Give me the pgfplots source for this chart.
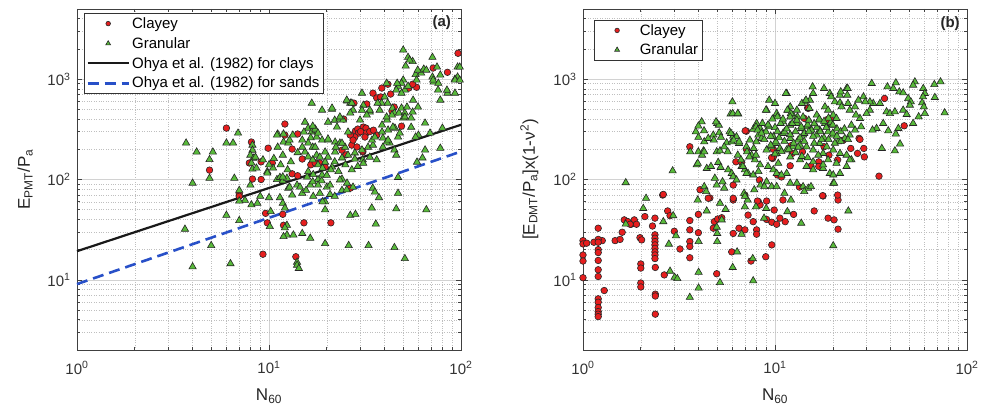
\documentclass[border=0pt]{standalone}
\usepackage{fontspec}
\setmainfont{Liberation Sans}
\usepackage{pgfplots}
\pgfplotsset{compat=1.18}
\definecolor{cred}{RGB}{230,30,30}
\definecolor{cgreen}{RGB}{88,186,58}
\definecolor{cblue}{RGB}{40,80,200}
\pgfplotsset{
 markleg/.style={legend image code/.code={\path[draw=none] (0cm,0cm) (1.45cm,0cm); \draw[mark repeat=2, mark phase=2, ##1, mark size=#1] plot coordinates {(0cm,0cm) (0.725cm,0cm) (1.45cm,0cm)};}},
 lineleg/.style={legend image code/.code={\draw[##1] (0cm,0cm) -- (1.45cm,0cm);}},
}
\begin{document}
\begin{tikzpicture}
\path[use as bounding box] (-77pt,-60pt) rectangle (905pt,350pt);
%================ (a) =================
\begin{axis}[at={(0pt,0pt)}, anchor=south west,
  xmode=log, ymode=log, scale only axis, width=384pt, height=341pt,
  xmin=1, xmax=100, ymin=2, ymax=5000,
  xtick={1,10,100}, xticklabels={10\textsuperscript{0},10\textsuperscript{1},10\textsuperscript{2}},
  ytick={10,100,1000}, yticklabels={10\textsuperscript{1},10\textsuperscript{2},10\textsuperscript{3}},
  minor xtick={2,3,4,5,6,7,8,9,20,30,40,50,60,70,80,90},
  minor ytick={3,4,5,6,7,8,9,20,30,40,50,60,70,80,90,200,300,400,500,600,700,800,900,2000,3000,4000},
  grid=both,
  major grid style={gray!35, line width=0.5pt},
  minor grid style={gray!50, dotted, line width=0.5pt},
  axis line style={black!75, line width=0.7pt},
  tick style={black!75, line width=0.6pt},
  major tick length=5pt, minor tick length=3pt, tick align=inside,
  ticklabel style={font=\fontsize{15}{16}\selectfont, text=black!80},
  xticklabel style={yshift=-8pt}, yticklabel style={xshift=-3pt},
  label style={font=\fontsize{17}{19}\selectfont, text=black!85},
  xlabel={N\textsubscript{60}},
  xlabel style={at={(axis description cs:0.5,-0.135)}, anchor=center},
  clip=false,
  legend cell align=left,
 ylabel={E\textsubscript{PMT}/P\textsubscript{a}},
 ylabel style={at={(axis description cs:-0.135,0.5)}, anchor=center},
 legend style={at={(0.018,0.988)}, anchor=north west, draw=black!80, line width=0.7pt, fill=white,
   font=\fontsize{15}{17}\selectfont, inner sep=2pt, row sep=3.5pt},
]
\addplot[only marks, mark=*, mark size=3.3pt, mark options={fill=cred, draw=black!85, line width=0.6pt}, markleg=2.3pt] coordinates {
(6,325)(4.9,124)(12.1,357)(12.1,277)(14.1,284)(8.1,236)(9.9,205)(13.2,201)(7.9,146)(9.1,150)
(10.4,146)(14.9,160)(16.9,150)(16.5,140)(8.2,101)(13.2,114)(14.1,109)(7,72)(24.5,400)(27.7,577)
(32.3,565)(28.2,305)(29,318)(31,333)(32,325)(29.3,290)(32,290)(28,265)(34.8,725)(36.4,650)
(38.2,665)(43,710)(38.7,815)(41.6,890)(44.9,527)(43.7,480)(53.5,815)(58.7,830)(56,890)(71.6,1290)
(85,1170)(96.5,1810)(49,340)(31.6,265)(36.4,277)(30.8,188)(27,220)(24,196)(26.5,277)(27.4,247)
(28.7,211)(30.8,192)(25.2,176)(18.4,146)(19.6,133)(17.4,146)(7,68)(9.1,100)(9.6,46)(9.8,37)
(9.3,18)(11.8,45)(11.9,35)(15.2,37)(13.8,17)(21,37)(26.5,82)(33.5,300)(35,310)(30,300)
};
\addlegendentry{Clayey}
\addplot[only marks, mark=triangle*, mark size=4.2pt, mark options={fill=cgreen, draw=black!85, line width=0.6pt}, markleg=2.8pt] coordinates {
(3.7,231)(4.2,188)(4.0,92)(5.1,188)(4.9,158)(4.9,103)(6.0,231)(6.5,231)(6.9,290)(6.6,103)(7.5,62)
(3.65,32)(4.0,13.5)(5.0,22)(6.3,14.5)(6.0,44)(7.0,39)(7.0,61)(7.0,78)(8.0,88)(8.2,127)(8.1,56)
(8.7,58)(9.0,68)(10,66)(10.2,48)(10.1,34)(9.8,120)(11,100)(11.4,105)(11.8,97)(12.4,103)(11.4,66)
(11.8,58)(12.1,52)(12.4,35)(12.1,33)(12.4,28)(13.4,28)(11.9,27)(14,15)(14,14)(14.3,13)(14.9,29)
(16.4,26)(12.6,82)(13.2,70)(14,88)(14.9,73)(15.6,78)(16.4,88)(17,68)
(19.6,60)(19.6,50)(19.6,23)(26,22)(26.5,44)(28.2,45)(24,101)(25.5,92)(20.8,71)(22,68)(24,78)(20,84)
(18,100)(18.8,97)(18,88)(19,60)(34.7,82)(35.6,75)(37.4,66)(34.3,52)(36,36)(33,22)(47,105)(47,73)
(46,51)(45,21)(51,16.3)(66,50)
(8.2,220)(8.2,196)(8.0,175)(8.3,163)(8.1,146)(10.6,162)(11.1,284)(11.9,284)(11.9,236)(12.6,231)
(15.4,373)(16,325)(16.7,298)(17.5,310)(16.5,260)(16,231)(17.7,265)(16.9,210)(15.4,188)(14.9,210)
(14.1,185)(16,168)(16.9,157)(17.7,175)(16.7,576)
(50,1950)(53,1650)(56,1500)(51.5,1350)(71,1650)(96,1320)(96,1050)(93,1000)(78,1100)
(71,1050)(72,935)(76,780)(85,725)(93,725)(58,1110)(62,1150)(64,1260)(50,980)(49,910)(51,780)
(53,850)(47,850)(46,780)(49,725)(40,665)(38.6,577)(41.5,577)(44,515)(45,460)(47.5,460)(49,515)
(51,460)(50,410)(55,410)(56,470)(30.5,725)(31,550)(30.5,490)(33.5,470)(36.8,577)(25.5,605)
(26.5,577)(21.3,500)(20.3,373)(22,390)(23.3,400)
(17.4,318)(18,290)(18.9,247)(20.3,247)(22.1,236)(23.4,231)(24.9,210)(22.1,188)(20.3,167)(19.6,149)
(24,164)(25.8,175)(28,184)(30.5,197)(32.8,210)(34.8,220)(34.4,247)(35.6,265)(38.8,297)(39.2,259)
(41.7,311)(45.3,325)(41.2,391)(38.8,349)(43.7,439)
(55,332)(65,365)(80,325)(60,277)(58,265)(63,164)(59,149)(78,205)(45,197)(46,175)(42.5,231)(41,236)(47,265)
(8.5,167)(8.6,130)(9.3,157)(9.8,116)(11,277)(11.1,210)(11.8,175)(12.8,247)(13.3,277)(14.9,247)
(15.2,297)(16.9,340)(17.4,210)(18.4,167)(19.6,188)(20.3,253)(18.9,111)(21.3,133)(22.3,210)(18.9,491)
(21.3,515)(22.6,333)(24.3,391)(25.8,297)(27.4,491)(25.4,618)(27,577)(11.8,106)(12.8,84)(14.5,84)
(15.8,106)(16.9,95)(18.4,73)(20.8,88)(23.4,99)(25.4,79)(27.4,84)(30.8,157)(33.5,167)(36.4,157)
(39.2,210)(41.7,247)(44.2,333)(48,290)(51,420)(52.3,527)(56.3,618)(59.7,527)(71.6,980)(75,1320)
(76.2,910)(78,618)(84.5,777)(93,980)(98.5,1320)(98.5,980)(65,197)(69,290)(59.5,1230)(54,1550)
(66,1230)(58.7,980)(46.5,910)(41,910)(33.5,491)(23.4,420)(26.5,460)(29.8,391)(32.3,439)(37.7,491)(41,420)
(18,140)(19,130)(21,125)(23,120)(20,110)(22,150)(25,140)(27,125)(29,135)(31,145)(16,120)(17,112)
(28,160)(24,230)(10.5,130)(11.5,140)(12.5,125)(13,150)(10,140)
};
\addlegendentry{Granular}
\addplot[black!90, line width=2.2pt, lineleg] coordinates {(1,19.3)(100,351)};
\addlegendentry{Ohya et al. (1982) for clays}
\addplot[cblue, line width=2.6pt, dash pattern=on 11pt off 6pt, lineleg] coordinates {(1,9.08)(100,190)};
\addlegendentry{Ohya et al. (1982) for sands}
\node[font=\bfseries\fontsize{15}{16}\selectfont, text=black!85] at (rel axis cs:0.95,0.959) {(a)};
\end{axis}
%================ (b) =================
\begin{axis}[at={(506pt,0pt)}, anchor=south west,
  xmode=log, ymode=log, scale only axis, width=384pt, height=341pt,
  xmin=1, xmax=100, ymin=2, ymax=5000,
  xtick={1,10,100}, xticklabels={10\textsuperscript{0},10\textsuperscript{1},10\textsuperscript{2}},
  ytick={10,100,1000}, yticklabels={10\textsuperscript{1},10\textsuperscript{2},10\textsuperscript{3}},
  minor xtick={2,3,4,5,6,7,8,9,20,30,40,50,60,70,80,90},
  minor ytick={3,4,5,6,7,8,9,20,30,40,50,60,70,80,90,200,300,400,500,600,700,800,900,2000,3000,4000},
  grid=both,
  major grid style={gray!35, line width=0.5pt},
  minor grid style={gray!50, dotted, line width=0.5pt},
  axis line style={black!75, line width=0.7pt},
  tick style={black!75, line width=0.6pt},
  major tick length=5pt, minor tick length=3pt, tick align=inside,
  ticklabel style={font=\fontsize{15}{16}\selectfont, text=black!80},
  xticklabel style={yshift=-8pt}, yticklabel style={xshift=-3pt},
  label style={font=\fontsize{17}{19}\selectfont, text=black!85},
  xlabel={N\textsubscript{60}},
  xlabel style={at={(axis description cs:0.5,-0.135)}, anchor=center},
  clip=false,
  legend cell align=left,
 ylabel={[E\textsubscript{DMT}/P\textsubscript{a}]x(1-ν\textsuperscript{2})},
 ylabel style={at={(axis description cs:-0.14,0.5)}, anchor=center},
 legend style={at={(0.029,0.968)}, anchor=north west, draw=black!80, line width=0.7pt, fill=white,
   font=\fontsize{15}{17}\selectfont, inner sep=2pt, row sep=3pt},
]
\addplot[only marks, mark=*, mark size=3.3pt, mark options={fill=cred, draw=black!85, line width=0.6pt}, markleg=2.3pt] coordinates {
(1.0,24.6)(1.0,22.8)(1.045,23.2)(1.0,17.7)(1.0,15.4)(1.0,10.5)(1.2,32.7)(1.14,23.7)(1.26,24.6)(1.2,25.3)
(1.2,23.7)(1.2,20.0)(1.2,18.7)(1.2,15.6)(1.2,12.6)(1.2,10.8)(1.2,6.47)(1.2,5.99)(1.2,5.3)(1.2,4.83)
(1.2,4.55)(1.2,4.3)(1.29,7.83)(1.47,24.6)(1.56,25.3)(1.6,29.8)(1.64,39.6)(1.71,38.1)(1.78,35.8)(1.85,39.6)
(1.76,35.8)(1.9,35.8)(2.1,42.7)(1.98,26.3)(2.02,25)(2.0,14.4)(2.0,13.1)(2.0,9.3)(2.0,8.5)(2.3,34.4)
(2.37,41.2)(2.37,28.1)(2.37,26)(2.37,24.1)(2.37,22.3)(2.37,20.6)(2.37,19)(2.37,17.7)(2.37,16.3)(2.38,13.3)
(2.38,7.2)(2.38,6.9)(2.38,4.55)(2.65,11.2)(2.76,48.6)(2.84,43.6)(2.99,30.5)(3.2,20.3)(3.6,39)(3.6,31.5)
(3.6,24.1)(3.6,21.5)(3.6,16.6)(3.99,44.9)(3.99,29.5)(4.97,11.5)(4.83,38)(5.03,40.4)(5.28,41.6)(4.77,32.7)
(6.06,29)(5.95,19)(6.06,62.5)(6.49,32.7)(6.97,31.5)(7.24,44.2)(7.7,38)(7.5,15.4)(8.02,31.5)(8.02,28.5)
(8.19,60.2)(8.36,55.8)(9.04,61)(8.95,17)(9.62,22.3)(9.04,40)(9.62,37.5)(10.2,35.8)(9.9,49.6)(10.6,41.2)
(11.3,38)(11,62.5)(12.5,44.9)(16,48.6)(17.8,68.5)(18.9,41.2)(20.3,39.6)(21.3,62.5)(21.3,32)(2.6,70)(4.58,65.5)
(3.6,212)(7.1,303)(6.7,149)(9.7,162)(8.3,99)(10.3,111)(8.1,61)(14.8,518)(12.3,182)(13.9,189)
(15.4,136)(16.9,150)(16.9,135)(19.1,175)(21.2,157)(22.7,247)(24.8,204)(27.4,257)(26.9,182)(29,204)
(29.2,168)(34.8,108)(47.1,343)(21.2,70)(17.7,69)(14.2,406)(18.8,397)(18,212)(12.1,217)(9.8,200)
(6.26,150)(14.9,511)(19.4,406)(27.7,251)(37.2,642)(9.8,168)(12,137)(13.4,84)(10.8,106)(2.62,71)
(4.07,79)(4.49,65)(6.06,88)(6.06,65)(6.97,70)(7.0,306)(7.1,200)(9.6,165)
};
\addlegendentry{Clayey}
\addplot[only marks, mark=triangle*, mark size=4.2pt, mark options={fill=cgreen, draw=black!85, line width=0.6pt}, markleg=2.8pt] coordinates {
(1.67,93)(2.13,65)(2.93,122)(3.91,140)(4.41,129)(3.99,189)(4.24,193)(3.99,263)(4.15,376)(4.27,306)
(4.77,277)(4.8,247)(5.0,362)(5.1,348)(4.97,189)(5.17,193)(5.06,148)(5.21,132)(4.86,103)(4.97,88)
(5.6,232)(5.95,238)(5.8,299)(6.06,271)(6.0,594)(5.87,449)(6.44,449)(6.3,267)(6.5,229)(5.7,125)
(5.95,115)(6.06,107)(6.3,99)(6.7,135)(6.97,125)(7.24,115)(7.7,111)(8.2,120)(7.1,212)(7.55,175)
(7.86,157)(8.36,140)(8.02,362)(8.19,277)(8.5,257)(8.0,238)(7.4,247)(7.7,316)(8.36,323)(9.04,491)
(10.2,439)(9.04,197)(9.6,212)(10.2,182)(9.2,135)(9.8,125)(9.04,95)(9.6,85)
(31.9,906)(38.5,838)(42.6,919)(41.3,808)(44.4,748)(46.5,731)(53.5,940)(52.4,872)(59.2,808)(60.3,721)
(59,667)(67.6,885)(72.8,940)(68,657)(76.5,462)(49.4,642)(51,594)(50.4,551)(58.4,582)(59.6,530)
(60.3,455)(56,422)(52.4,362)(46.5,491)(48.5,445)(38.1,473)(39.7,455)(42.1,473)(43.9,323)(42.6,284)
(38.9,306)(44.8,226)(42.1,193)(36.6,362)(33.8,323)(32.2,311)(36,204)(35.2,573)(32.5,573)(31.2,594)
(28.9,667)(29.5,594)(27.2,618)(26.1,530)(24.5,491)(31.2,491)(30,455)(27.7,406)(26.4,439)(28.1,335)
(26.1,311)(24.5,277)(25,348)(23.1,257)(21.3,238)(23.6,808)(23.8,693)(21.8,693)(19.3,721)(20.5,594)
(21.8,582)(22.2,530)(24,573)(18.2,530)(18.9,491)(20.1,439)(20.9,406)(19.7,348)(18.2,362)(17.1,391)
(16.5,439)(17.1,311)(18.9,299)(20.1,277)(15.8,721)(15.2,618)(14.3,594)(15.1,511)(13.8,573)(13,491)
(12.4,439)(12,530)(11.7,491)(11.5,721)(10,573)(10.2,455)(11,376)(12,348)(13,362)(13.8,323)
(14.6,335)(15.5,311)(16.5,277)(14,277)(13.2,247)(12,257)(11,288)(17.1,229)(18.6,212)(20.1,197)
(21.8,182)(23.6,175)(25,157)(18.9,157)(17.8,182)(15.8,197)(14.6,212)(13.5,220)(12.4,212)(11.5,197)
(10.6,204)(10,229)(12,168)(13.5,157)(14.6,135)(15.8,125)(17.8,129)(19.3,115)(20.1,111)(21.8,115)
(23.6,135)(24.5,157)(20.9,145)(10.4,145)(10.2,115)(20.1,92)(14,85)(14.9,82)(12,92)(13,92)
(10.2,85)(11.5,115)(10.8,111)
(3.62,189)(3.96,145)(4.17,175)(4.28,189)(3.87,299)(3.99,341)(4.28,238)(4.49,257)(4.64,135)(4.93,376)
(5.12,292)(5.23,263)(5.44,212)(5.67,189)(5.33,95)(5.44,82)(6.02,455)(6.4,455)(5.9,288)(6.1,247)
(6.5,238)(6.4,175)(6.65,157)(6.8,135)(7.1,115)(7.15,189)(7.35,168)(7.75,204)(7.96,175)(7.96,335)
(8.12,311)(8.6,362)(8.97,299)(9.33,335)(9.8,267)(10.1,238)(8.97,491)(9.33,618)(10.3,422)(10.7,362)
(11.2,299)(11.6,491)(12.1,455)(12.3,362)(13.1,422)(13.7,335)(14.2,288)(11.4,721)(14.5,618)(15.7,838)
(18,808)(19.6,667)(22,748)(23.9,808)
(3.96,62.5)(4.28,85)(4.38,76)(6.9,73)(7.2,62.5)(7.8,79)(8.4,88)(8.8,85)(11.2,73)(12.1,62.5)
(14.2,76)(15.4,85)(20.3,92)
(2.06,51.5)(2.62,38)(1.67,36)(2.95,43.6)(3.05,27.5)(2.8,22.7)(2.84,12.2)(3.0,10.6)(3.1,10.3)(4.41,48.6)
(4.0,24.1)(4.0,11.9)(4.0,8.3)(3.6,6.7)(5.17,58)(5.53,50.4)(5.28,39.6)(4.97,33.5)(5.0,29)(5.0,24.1)
(5.17,9.4)(6.02,13.3)(6.35,19)(6.7,28.5)(6.97,53.5)(6.97,68)(7.96,53.5)(7.66,16.3)(7.7,9.8)(8.77,41.2)
(9.0,51.5)(11.6,47.8)(13.7,36.7)(20.1,21.9)(24.1,48.6)
(10.5,260)(11.2,240)(12,280)(12.8,300)(13.5,260)(14.2,240)(15,300)(15.8,270)(16.5,330)(17.2,300)
(18,260)(19,250)(20,290)(21,320)(22,300)(11.5,320)(12.5,230)(13.2,210)(14.8,350)(16,230)
(17.5,250)(18.5,330)(19.5,370)(20.5,230)(9.5,270)(10,330)(11,400)(12,420)(13,390)(14,420)
(15,390)(16,360)(17,400)(18,380)(19,410)(20,350)(21,270)(22,240)(23,320)(24,250)
(10.8,190)(11.8,200)(12.8,185)(13.8,170)(14.8,165)(15.8,150)(16.8,175)(17.8,140)(9.5,220)(10,180)
(8.8,250)(8.5,290)(9.2,350)(9.7,400)(10.3,300)
};
\addlegendentry{Granular}
\node[font=\bfseries\fontsize{15}{16}\selectfont, text=black!85] at (rel axis cs:0.956,0.956) {(b)};
\end{axis}
\end{tikzpicture}
\end{document}
